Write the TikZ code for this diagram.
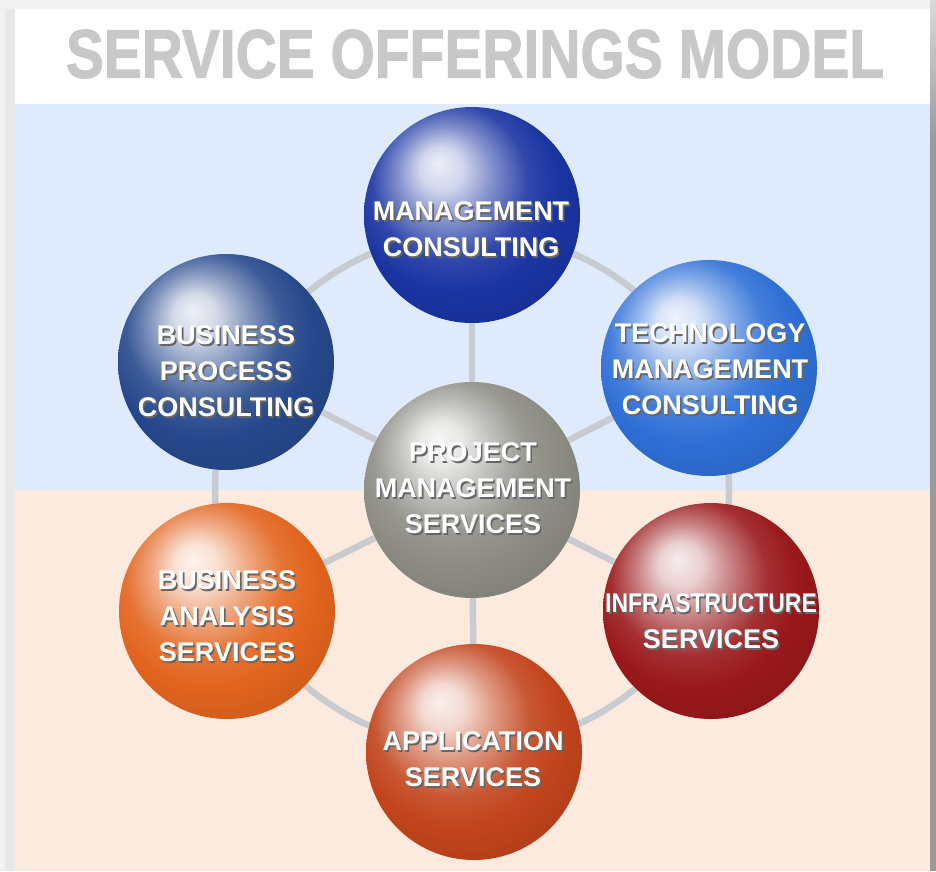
\documentclass[tikz,border=0pt]{standalone}
\usepackage{fontspec}
\setmainfont{Liberation Sans}
\newfontfamily\titlefont[FakeBold=1.6]{Liberation Sans}
\usepackage{graphicx}
\definecolor{bgout}{HTML}{F2F2F2}
\definecolor{bandblue}{HTML}{DFEBFC}
\definecolor{bandpeach}{HTML}{FDEADE}
\definecolor{connc}{HTML}{C8CCD0}
\definecolor{titlec}{HTML}{C8C8C8}
\definecolor{shadowc}{HTML}{9A9A9A}
\newcommand\mkball[2]{%
  \definecolor{#1c}{HTML}{#2}%
  \pgfdeclareradialshading{#1}{\pgfpoint{-8bp}{12bp}}{%
    color(0bp)=(white!92!#1c); color(5bp)=(white!80!#1c);
    color(11bp)=(white!45!#1c); color(18bp)=(white!10!#1c);
    color(24bp)=(#1c); color(31bp)=(#1c!92!black);
    color(39bp)=(#1c!82!white); color(50bp)=(#1c!82!white)}}
\mkball{mgmt}{1A34A2}
\mkball{bpc}{26488C}
\mkball{tech}{2E6FD6}
\mkball{ctr}{8C8C84}
\mkball{ba}{E2641E}
\mkball{infra}{9A181B}
\mkball{app}{C2441C}
\newcommand\shtxt[1]{\leavevmode\rlap{\kern1.6pt\raisebox{-1.6pt}{\color{black!60}\begin{tabular}{@{}c@{}}#1\end{tabular}}}{\color{white}\begin{tabular}{@{}c@{}}#1\end{tabular}}}
\pgfdeclarelayer{back}
\pgfdeclarelayer{background}
\pgfsetlayers{back,background,main}
\begin{document}
\begin{tikzpicture}[x=1pt,y=-1pt,
  ball/.style={circle,minimum size=216pt,inner sep=0pt},
  lbl/.style={inner sep=0pt,font=\bfseries\fontsize{27}{36}\selectfont},
  conn/.style={line width=6.5pt,draw=connc}]
\useasboundingbox (0,0) rectangle (936,871);
\begin{pgfonlayer}{back}
\fill[bgout] (0,0) rectangle (936,871);
\fill[bgout!96!black] (5,9) rectangle (15,871);
\shade[top color=bgout!90!black,bottom color=shadowc] (930,0) rectangle (936,140);
\fill[shadowc] (930,140) rectangle (936,871);
\fill[white] (15,9) rectangle (930,104);
\fill[bandblue] (15,104) rectangle (930,490);
\fill[bandpeach] (15,490) rectangle (930,871);
\end{pgfonlayer}
\node[inner sep=0pt,text=titlec,font=\titlefont\bfseries] (title) at (475,54)
  {\resizebox{818pt}{48pt}{SERVICE OFFERINGS MODEL}};
% spheres
\node[ball,shading=mgmt]  (M) at (472,215) {};
\node[ball,shading=bpc]   (P) at (226,362) {};
\node[ball,shading=tech]  (T) at (709,368) {};
\node[ball,shading=ctr]   (C) at (472,490) {};
\node[ball,shading=ba]    (B) at (227,611) {};
\node[ball,shading=infra] (I) at (711,611) {};
\node[ball,shading=app]   (A) at (474,752) {};
% connectors
\begin{pgfonlayer}{background}
\draw[conn] (C.center) circle[radius=257];
\foreach \n in {M,P,T,B,I,A} \draw[conn] (C) -- (\n);
\end{pgfonlayer}
% labels
\node[lbl] (Mt) at (471,232) {\shtxt{MANAGEMENT\\CONSULTING}};
\node[lbl] (Pt) at (226,374) {\shtxt{BUSINESS\\PROCESS\\CONSULTING}};
\node[lbl] (Tt) at (710,372) {\shtxt{TECHNOLOGY\\MANAGEMENT\\CONSULTING}};
\node[lbl] (Ct) at (473,491) {\shtxt{PROJECT\\MANAGEMENT\\SERVICES}};
\node[lbl] (Bt) at (227,619) {\shtxt{BUSINESS\\ANALYSIS\\SERVICES}};
\node[lbl] (It) at (711,624) {\shtxt{\scalebox{0.85}[1]{INFRASTRUCTURE}\\SERVICES}};
\node[lbl] (At) at (473,762) {\shtxt{APPLICATION\\SERVICES}};
\end{tikzpicture}
\end{document}
